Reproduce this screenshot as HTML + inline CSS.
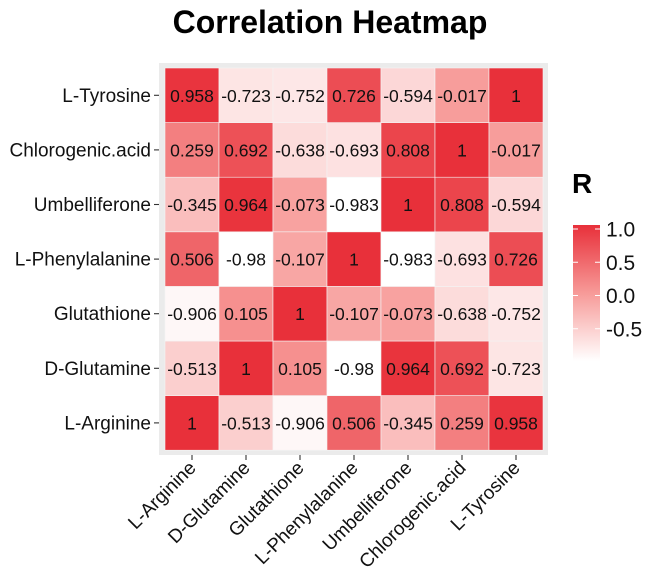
<!DOCTYPE html>
<html><head><meta charset="utf-8"><style>
body{margin:0;background:#fff;}
svg{display:block;font-family:"Liberation Sans",sans-serif;}
</style></head><body>
<svg id="chart" width="661" height="580" viewBox="0 0 661 580">
<text x="330" y="33" text-anchor="middle" font-size="32" font-weight="bold">Correlation Heatmap</text>
<rect x="159" y="63" width="389" height="392" fill="#ebebeb"/>
<g id="cells"></g>
<g id="axes"></g>
<text x="572" y="193" font-size="28" font-weight="bold">R</text>
<defs><linearGradient id="lg" x1="0" y1="1" x2="0" y2="0"><stop offset="0" stop-color="#ffffff"/><stop offset="0.5" stop-color="#f79a98"/><stop offset="1" stop-color="#e8303a"/></linearGradient></defs>
<rect x="573" y="225" width="27" height="136" fill="url(#lg)"/>
<g id="legend"></g>
</svg>
<script>
const vars=["L-Arginine","D-Glutamine","Glutathione","L-Phenylalanine","Umbelliferone","Chlorogenic.acid","L-Tyrosine"];
const corr=[
[1,-0.513,-0.906,0.506,-0.345,0.259,0.958],
[-0.513,1,0.105,-0.98,0.964,0.692,-0.723],
[-0.906,0.105,1,-0.107,-0.073,-0.638,-0.752],
[0.506,-0.98,-0.107,1,-0.983,-0.693,0.726],
[-0.345,0.964,-0.073,-0.983,1,0.808,-0.594],
[0.259,0.692,-0.638,-0.693,0.808,1,-0.017],
[0.958,-0.723,-0.752,0.726,-0.594,-0.017,1]];
const legendTicks=[1.0,0.5,0.0,-0.5];
const legendLabels=["1.0","0.5","0.0","-0.5"];
const NS="http://www.w3.org/2000/svg";
const x0=165,y0=68,cw=54,ch=54.6,n=vars.length;
const vmin=-0.983,vmax=1;
function xs(i){return x0+i*cw;}
function ys(j){return y0+(n-1-j)*ch;}
function col(v){const t=Math.max(0,Math.min(1,(v-vmin)/(vmax-vmin)));
 let a,b,u;
 if(t<0.5){a=[255,255,255];b=[247,154,152];u=t/0.5;}else{a=[247,154,152];b=[232,48,58];u=(t-0.5)/0.5;}
 const c=a.map((x,k)=>Math.round(x+(b[k]-x)*u));return `rgb(${c[0]},${c[1]},${c[2]})`;}
function ly(v){return 229+(1-v)*66.5;}
function mk(tag,attrs,parent){const e=document.createElementNS(NS,tag);for(const k in attrs)e.setAttribute(k,attrs[k]);parent.appendChild(e);return e;}
const cells=document.getElementById('cells'),axes=document.getElementById('axes'),leg=document.getElementById('legend');
for(let j=0;j<n;j++)for(let i=0;i<n;i++){
 const v=corr[j][i];
 const r=mk('rect',{x:xs(i),y:ys(j),width:cw,height:ch,fill:col(v),stroke:'#f4f4f4','stroke-width':0.6},cells);
 
 
 const t=mk('text',{x:xs(i)+cw/2,y:ys(j)+ch/2+6.5,'text-anchor':'middle','font-size':17.5,fill:'#111'},cells);
 t.textContent=String(v);
 
 
}
for(let k=0;k<n;k++){
 const cy=ys(k)+ch/2;
 mk('line',{x1:154,x2:159,y1:cy,y2:cy,stroke:'#333','stroke-width':1.1},axes);
 const t=mk('text',{x:151,y:cy+6.5,'text-anchor':'end','font-size':19,fill:'#111'},axes);
 t.textContent=vars[k];
 
 
 const cx=xs(k)+cw/2;
 mk('line',{x1:cx,x2:cx,y1:455,y2:460,stroke:'#333','stroke-width':1.1},axes);
 const tx=mk('text',{x:cx+5,y:469,'text-anchor':'end','font-size':19,fill:'#111',transform:`rotate(-45 ${cx+5} 469)`},axes);
 tx.textContent=vars[k];
 
 
}
legendTicks.forEach((v,i)=>{
 const y=ly(v);
 mk('line',{x1:573,x2:578,y1:y,y2:y,stroke:'#fff','stroke-width':1},leg);
 mk('line',{x1:595,x2:600,y1:y,y2:y,stroke:'#fff','stroke-width':1},leg);
 const t=mk('text',{x:606,y:y+7.5,'font-size':21,fill:'#111'},leg);
 t.textContent=legendLabels[i];
 
 
});
</script>
</body></html>
